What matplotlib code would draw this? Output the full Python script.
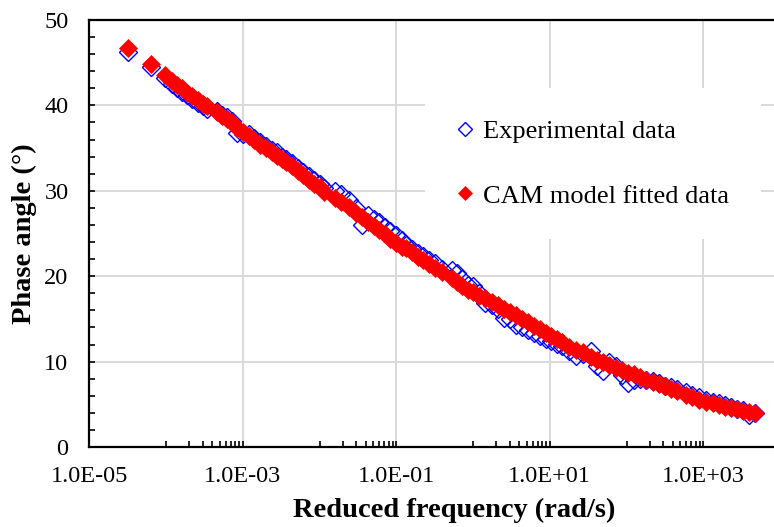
#!/usr/bin/env python3
# -*- coding: utf-8 -*-
"""
Phase angle master curve: experimental data vs CAM model fit
"""
import numpy as np
import matplotlib.pyplot as plt
from matplotlib.ticker import FixedLocator, FuncFormatter, MultipleLocator

# ---------------------------------------------------------------------------
# Data, reduced frequency (rad/s) and phase angle (deg)

freq = [3.2e-5, 6.4e-5, 9.8e-5,
        1.2e-4, 1.4e-4, 1.6e-4, 1.9e-4, 2.2e-4, 2.6e-4, 3.0e-4, 3.4e-4,
        4.6e-4, 5.4e-4, 6.2e-4, 7.2e-4,
        8.3e-4, 1.0e-3, 1.2e-3, 1.4e-3, 1.7e-3, 2.0e-3, 2.4e-3, 2.8e-3, 3.2e-3, 3.7e-3,
        4.4e-3, 5.2e-3, 6.1e-3, 7.2e-3, 8.5e-3, 1.0e-2, 1.16e-2,
        1.57e-2, 1.9e-2, 2.45e-2,
        3.0e-2, 3.6e-2, 4.3e-2, 5.1e-2, 6.0e-2, 7.1e-2, 8.4e-2, 0.10, 0.12,
        0.135, 0.16, 0.19, 0.225, 0.27, 0.32, 0.40,
        0.53, 0.62, 0.72,
        0.85, 1.0, 1.2, 1.45, 1.75, 2.1, 2.5, 3.0, 3.6, 4.3, 5.2, 6.2, 7.4, 8.8, 10.5, 12.5, 14.3,
        17.8, 22.0, 27.5,
        34, 41, 50, 60, 72, 87, 105, 125, 150, 180, 220, 265, 320, 385, 460,
        600, 720, 870,
        1100, 1320, 1600, 1900, 2300, 2750, 3300, 3900, 4700]

phase_exp = [46.2, 44.5, 43.2,
             42.5, 42.0, 41.6, 41.2, 40.7, 40.3, 39.9, 39.6,
             39.3, 38.9, 38.6, 38.2,
             36.8, 36.6, 36.6, 36.2, 35.7, 35.3, 34.8, 34.5, 34.0, 33.7,
             33.2, 32.7, 32.2, 31.7, 31.3, 30.8, 30.3,
             30.0, 29.6, 28.9,
             28.0, 26.0, 27.2, 26.7, 26.4, 25.8, 25.3, 24.8, 24.2,
             23.6, 23.2, 22.7, 22.4, 21.9, 21.5, 20.9,
             20.7, 20.4, 19.7,
             19.0, 18.8, 18.0, 16.9, 16.6, 16.2, 15.1, 15.0, 14.3, 14.0, 13.7, 13.4, 13.0, 12.7, 12.4, 12.1, 11.8,
             11.2, 10.6, 10.9,
             11.2, 9.5, 8.9, 10.0, 9.5, 8.4, 7.5, 7.9, 8.0, 7.9, 7.7, 7.5, 7.2, 7.0, 6.8,
             6.4, 6.1, 5.8,
             5.5, 5.3, 5.2, 4.9, 4.7, 4.5, 4.3, 3.8, 4.0]

phase_cam = [46.7, 44.8, 43.6,
             42.8, 42.4, 42.0, 41.5, 41.1, 40.6, 40.2, 39.9,
             39.2, 38.8, 38.4, 38.0,
             37.4, 36.9, 36.4, 35.9, 35.4, 35.0, 34.5, 34.1, 33.7, 33.4,
             32.9, 32.3, 31.8, 31.3, 30.8, 30.4, 29.9,
             29.2, 28.7, 28.1,
             27.4, 26.9, 26.4, 25.9, 25.4, 24.9, 24.4, 23.9, 23.4,
             23.3, 22.8, 22.3, 21.9, 21.4, 21.0, 20.5,
             19.8, 19.3, 18.8,
             18.4, 18.1, 17.7, 17.4, 17.0, 16.6, 16.2, 15.8, 15.4, 15.0, 14.6, 14.2, 13.8, 13.4, 13.0, 12.6, 12.3,
             11.7, 11.4, 11.1,
             10.5, 10.2, 9.9, 9.6, 9.3, 9.0, 8.7, 8.5, 8.2, 7.9, 7.6, 7.4, 7.1, 6.8, 6.6,
             6.1, 5.8, 5.5,
             5.3, 5.1, 4.9, 4.7, 4.6, 4.4, 4.2, 4.1, 4.0]

labels = ["Experimental data", "CAM model fitted data"]

# ---------------------------------------------------------------------------
# Plot

plt.rcParams['font.family'] = ['Liberation Serif', 'DejaVu Serif']

fig = plt.figure(figsize=(7.74, 5.27), dpi=100)
# axes run a bit past the right border, so the right spine is cut off
ax = fig.add_axes([89.3 / 774, 80 / 527, 690.7 / 774, 427 / 527])

ax.plot(freq, phase_exp, linestyle='none', marker='D', markersize=9,
        markerfacecolor='none', markeredgecolor='#0000ff', markeredgewidth=1.0,
        label=labels[0], zorder=3)
ax.plot(freq, phase_cam, linestyle='none', marker='D', markersize=9,
        markerfacecolor='#ff0000', markeredgecolor='#ff0000', markeredgewidth=0.5,
        label=labels[1], zorder=4)

ax.set_xscale('log')
ax.set_xlim(1e-5, 1e4)
ax.set_ylim(0, 50)

# major ticks every two decades, minor ticks only in the odd decades
ax.xaxis.set_major_locator(FixedLocator([1e-5, 1e-3, 1e-1, 1e1, 1e3]))
minors = [k * 10.0 ** d for d in (-4, -2, 0, 2) for k in range(1, 10)]
ax.xaxis.set_minor_locator(FixedLocator(minors))
ax.xaxis.set_major_formatter(FuncFormatter(lambda v, p: f"{v:.1E}"))
ax.xaxis.set_minor_formatter(FuncFormatter(lambda v, p: ""))

ax.yaxis.set_major_locator(MultipleLocator(10))
ax.yaxis.set_minor_locator(MultipleLocator(2))

ax.tick_params(axis='both', which='both', direction='in', length=4, width=1.2,
               labelsize=17.5, color='black')
ax.tick_params(axis='x', which='major', pad=14)
ax.tick_params(axis='y', which='major', pad=15)

ax.grid(True, which='major', color='#d9d9d9', linewidth=1.4, zorder=0)
ax.set_axisbelow(True)

for side in ['left', 'bottom', 'top', 'right']:
    ax.spines[side].set_linewidth(1.6)
    ax.spines[side].set_color('black')

ax.set_xlabel("Reduced frequency (rad/s)", fontsize=20.5, fontweight='bold')
ax.set_ylabel("Phase angle (°)", fontsize=20.5, fontweight='bold')
ax.xaxis.set_label_coords(0.528, -0.12)
ax.yaxis.set_label_coords(-0.076, 0.5)

leg = ax.legend(loc='upper left', bbox_to_anchor=(425 / 774, 1 - 88 / 527),
                bbox_transform=fig.transFigure, borderaxespad=0,
                fontsize=19, frameon=True, fancybox=False, framealpha=1,
                facecolor='white', edgecolor='none', borderpad=1.2,
                handlelength=0.6, handletextpad=0.4, labelspacing=1.55,
                markerscale=0.75)

fig.savefig("out.png", dpi=100)
